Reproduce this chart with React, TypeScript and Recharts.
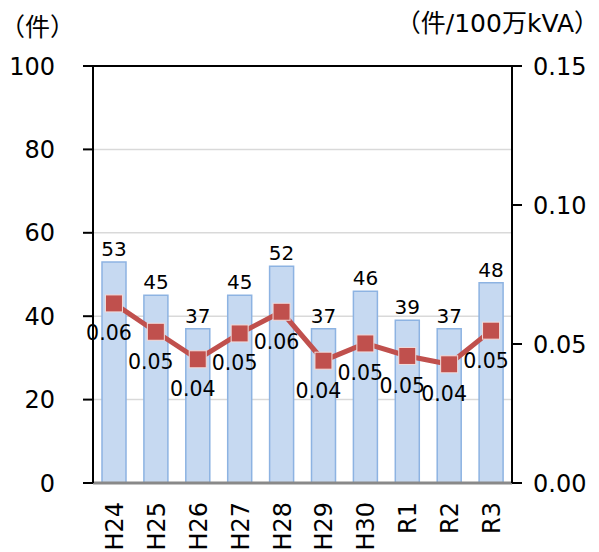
import React from 'react';
import {
  ComposedChart, Bar, Line, XAxis, YAxis, CartesianGrid, LabelList, ReferenceLine,
} from 'recharts';

const years = ['H24', 'H25', 'H26', 'H27', 'H28', 'H29', 'H30', 'R1', 'R2', 'R3'];
const counts = [53, 45, 37, 45, 52, 37, 46, 39, 37, 48];
const rates = [0.0646, 0.0544, 0.0445, 0.0538, 0.0616, 0.044, 0.0502, 0.0457, 0.0427, 0.0548];
const leftTicks = [0, 20, 40, 60, 80, 100];
const rightTicks = [0, 0.05, 0.1, 0.15];

const FONT = '"DejaVu Sans", "Noto Sans CJK JP", sans-serif';

const data = years.map((name, i) => ({ name, count: counts[i], rate: rates[i] }));

const XTick = (props: any) => {
  const { x, y, payload } = props;
  return (
    <text
      x={x + 1}
      y={y}
      transform={`rotate(-90, ${x + 1}, ${y})`}
      textAnchor="end"
      dominantBaseline="central"
      fontSize={24}
      fontFamily={FONT}
      fill="#000"
    >
      {payload.value}
    </text>
  );
};

const RateLabel = (props: any) => {
  const { x, y, value } = props;
  return (
    <text x={x - 5} y={y + 30} textAnchor="middle" dominantBaseline="central" fontSize={20.5} fontFamily={FONT} fill="#000">
      {Number(value).toFixed(2)}
    </text>
  );
};

const Square = (props: any) => {
  const { cx, cy } = props;
  return <rect x={cx - 8.5} y={cy - 8.5} width={17} height={17} fill="#c0504d" stroke="#f2dcdb" strokeWidth={1} />;
};

export default function App() {
  return (
    <div style={{ position: 'absolute', left: 0, top: 0, width: 599, height: 552, fontFamily: FONT, background: '#fff' }}>
      <div style={{ position: 'absolute', left: 0, top: 13, fontSize: 25, lineHeight: '30px' }}>（件）</div>
      <div style={{ position: 'absolute', right: 0, top: 9, fontSize: 25, lineHeight: '30px' }}>（件/100万kVA）</div>
      <ComposedChart width={599} height={552} data={data} margin={{ top: 66, right: 0, bottom: 0, left: 0 }}>
        <CartesianGrid yAxisId="left" vertical={false} stroke="#d9d9d9" strokeWidth={1.5} />
        <XAxis
          dataKey="name"
          height={69}
          axisLine={{ stroke: '#898989', strokeWidth: 3 }}
          tickLine={false}
          tickSize={0}
          tickMargin={19}
          tick={<XTick />}
          interval={0}
        />
        <YAxis
          yAxisId="left"
          width={93}
          domain={[0, 100]}
          ticks={leftTicks}
          axisLine={{ stroke: '#000', strokeWidth: 2 }}
          tickLine={{ stroke: '#000', strokeWidth: 2 }}
          tickSize={10}
          tickMargin={28}
          tick={{ fontSize: 24, fill: '#000', fontFamily: FONT }}
        />
        <YAxis
          yAxisId="right"
          orientation="right"
          width={87}
          domain={[0, 0.15]}
          ticks={rightTicks}
          tickFormatter={(v: number) => v.toFixed(2)}
          axisLine={{ stroke: '#000', strokeWidth: 2 }}
          tickLine={{ stroke: '#000', strokeWidth: 2 }}
          tickSize={10}
          tickMargin={11}
          tick={{ fontSize: 24, fill: '#000', fontFamily: FONT }}
        />
        <ReferenceLine yAxisId="left" y={100} stroke="#000" strokeWidth={2} />
        <Bar yAxisId="left" dataKey="count" barSize={24} fill="#c6d9f1" stroke="#8db3e2" strokeWidth={1.5} isAnimationActive={false}>
          <LabelList dataKey="count" position="top" offset={6} fontSize={20} fill="#000" fontFamily={FONT} />
        </Bar>
        <Line
          yAxisId="right"
          dataKey="rate"
          stroke="#c0504d"
          strokeWidth={5}
          dot={<Square />}
          activeDot={false}
          isAnimationActive={false}
        >
          <LabelList dataKey="rate" content={<RateLabel />} />
        </Line>
      </ComposedChart>
    </div>
  );
}
